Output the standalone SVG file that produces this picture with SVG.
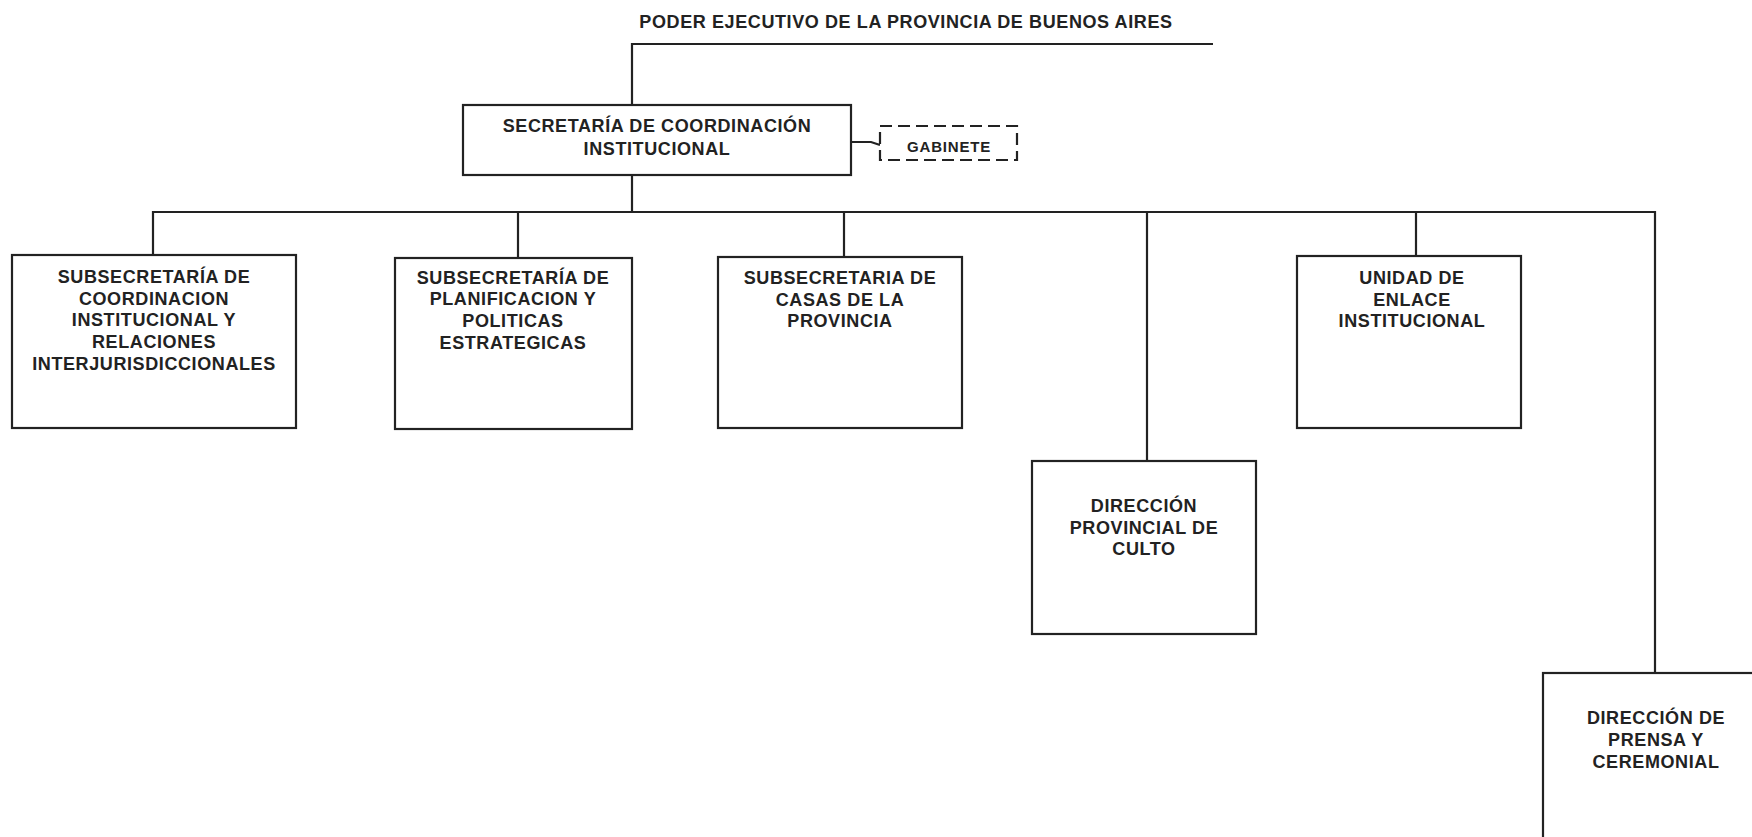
<svg xmlns="http://www.w3.org/2000/svg" width="1752" height="837" viewBox="0 0 1752 837">
<style>
.box{fill:#fff;stroke:#222;stroke-width:2.2}
.dash{fill:#fff;stroke:#222;stroke-width:2.2;stroke-dasharray:12 6}
.ln{fill:none;stroke:#222;stroke-width:2.2}
text{font-family:"Liberation Sans",Arial,sans-serif;font-weight:bold;font-size:18px;fill:#222;text-anchor:middle;letter-spacing:0.6px}
.sm{font-size:15px;letter-spacing:0.8px}
</style>
<rect width="1752" height="837" fill="#fff"/>
<text x="906" y="28">PODER EJECUTIVO DE LA PROVINCIA DE BUENOS AIRES</text>
<g id="connectors">
<polyline class="ln" points="632,105 632,44 1213,44"/>
<line class="ln" x1="632" y1="175" x2="632" y2="212"/>
<polyline class="ln" points="851,142 871,142 880,145"/>
<polyline class="ln" points="153,255 153,212 1655,212 1655,673"/>
<line class="ln" x1="518" y1="212" x2="518" y2="258"/>
<line class="ln" x1="844" y1="212" x2="844" y2="257"/>
<line class="ln" x1="1147" y1="212" x2="1147" y2="461"/>
<line class="ln" x1="1416" y1="212" x2="1416" y2="256"/>
</g>
<g id="secretaria">
<rect class="box" x="463" y="105" width="388" height="70"/>
<text x="657" y="132">SECRETARÍA DE COORDINACIÓN</text>
<text x="657" y="155">INSTITUCIONAL</text>
</g>
<g id="gabinete">
<rect class="dash" x="880" y="126" width="137" height="34"/>
<text class="sm" x="949" y="152">GABINETE</text>
</g>
<g id="subsec-coordinacion">
<rect class="box" x="12" y="255" width="284" height="173"/>
<text x="154" y="282.5">SUBSECRETARÍA DE</text>
<text x="154" y="304.5">COORDINACION</text>
<text x="154" y="326">INSTITUCIONAL Y</text>
<text x="154" y="347.5">RELACIONES</text>
<text x="154" y="369.5">INTERJURISDICCIONALES</text>
</g>
<g id="subsec-planificacion">
<rect class="box" x="395" y="258" width="237" height="171"/>
<text x="513" y="283.5">SUBSECRETARÍA DE</text>
<text x="513" y="305">PLANIFICACION Y</text>
<text x="513" y="326.5">POLITICAS</text>
<text x="513" y="348.5">ESTRATEGICAS</text>
</g>
<g id="subsec-casas">
<rect class="box" x="718" y="257" width="244" height="171"/>
<text x="840" y="283.5">SUBSECRETARIA DE</text>
<text x="840" y="305.5">CASAS DE LA</text>
<text x="840" y="327">PROVINCIA</text>
</g>
<g id="direccion-culto">
<rect class="box" x="1032" y="461" width="224" height="173"/>
<text x="1144" y="512">DIRECCIÓN</text>
<text x="1144" y="533.5">PROVINCIAL DE</text>
<text x="1144" y="555">CULTO</text>
</g>
<g id="unidad-enlace">
<rect class="box" x="1297" y="256" width="224" height="172"/>
<text x="1412" y="283.5">UNIDAD DE</text>
<text x="1412" y="305.5">ENLACE</text>
<text x="1412" y="327">INSTITUCIONAL</text>
</g>
<g id="direccion-prensa">
<rect class="box" x="1543" y="673" width="224" height="180"/>
<text x="1656" y="723.5">DIRECCIÓN DE</text>
<text x="1656" y="745.5">PRENSA Y</text>
<text x="1656" y="767.5">CEREMONIAL</text>
</g>
</svg>
